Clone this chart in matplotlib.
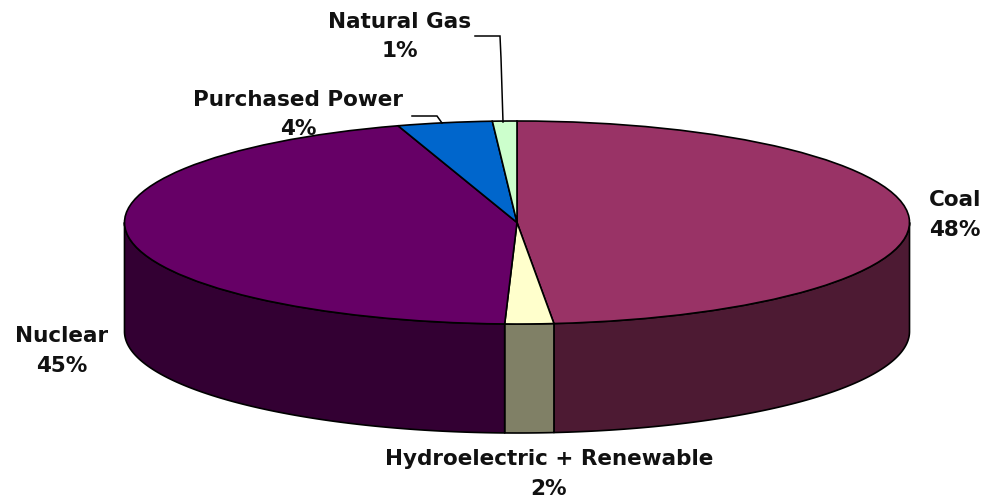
import numpy as np
import matplotlib
matplotlib.use("Agg")
import matplotlib.pyplot as plt

categories = ["Coal", "Hydroelectric + Renewable", "Nuclear", "Purchased Power", "Natural Gas"]
shares = [48.5, 2.0, 44.6, 3.9, 1.0]
share_labels = ["48%", "2%", "45%", "4%", "1%"]
top_colors = ["#993366", "#FFFFCC", "#660066", "#0066CC", "#CCFFCC"]
side_colors = ["#4D1A33", "#808066", "#330033", "#003366", "#668066"]

W, H = 986, 503
CX, CY, RX, RY, DEPTH = 517.0, 222.5, 392.5, 101.5, 109.0
label_pos = [(955, 215), (549, 474), (62, 351), (298, 114.5), (400, 36.5)]

fig = plt.figure(figsize=(W / 100, H / 100), dpi=100, facecolor="white")
ax = fig.add_axes([0, 0, 1, 1])

ax.pie(shares, colors=top_colors, startangle=90, counterclock=False, radius=1,
       wedgeprops=dict(edgecolor="black", linewidth=1.2, zorder=3))
ax.set_aspect("auto")
ax.set_xlim(-CX / RX, (W - CX) / RX)
ax.set_ylim(-(H - CY) / RY, CY / RY)
ax.axis("off")
depth = DEPTH / RY

def to_data(px, py):
    return (px - CX) / RX, (CY - py) / RY

# Side wall: the front half of each slice, extruded downwards
edges = np.cumsum([0] + shares) / sum(shares) * 360.0
for start, end, col in zip(edges[:-1], edges[1:], side_colors):
    # clockwise angle from the top; front half is between 90 and 270
    a, b = max(start, 90.0), min(end, 270.0)
    if b <= a:
        continue
    t = np.radians(np.linspace(a, b, 120))
    x, y = np.sin(t), np.cos(t)
    ax.fill(np.r_[x, x[::-1]], np.r_[y, y[::-1] - depth], facecolor=col,
            edgecolor="black", linewidth=1.2, zorder=2, joinstyle="round")

# Leader lines
for pts in ([(475, 36), (500, 36), (501, 58), (503, 122)],
            [(412, 116), (437, 116), (442, 123)]):
    xs, ys = zip(*[to_data(*p) for p in pts])
    ax.plot(xs, ys, color="black", lw=1.1, zorder=4, solid_joinstyle="miter")

for name, pct, (px, py) in zip(categories, share_labels, label_pos):
    x, y = to_data(px, py)
    ax.text(x, y, f"{name}\n{pct}", ha="center", va="center", ma="center",
            family="DejaVu Sans", weight="bold", fontsize=15.5, linespacing=1.62,
            color="#111111", zorder=5)

fig.savefig("out.png", dpi=100, facecolor="white")
